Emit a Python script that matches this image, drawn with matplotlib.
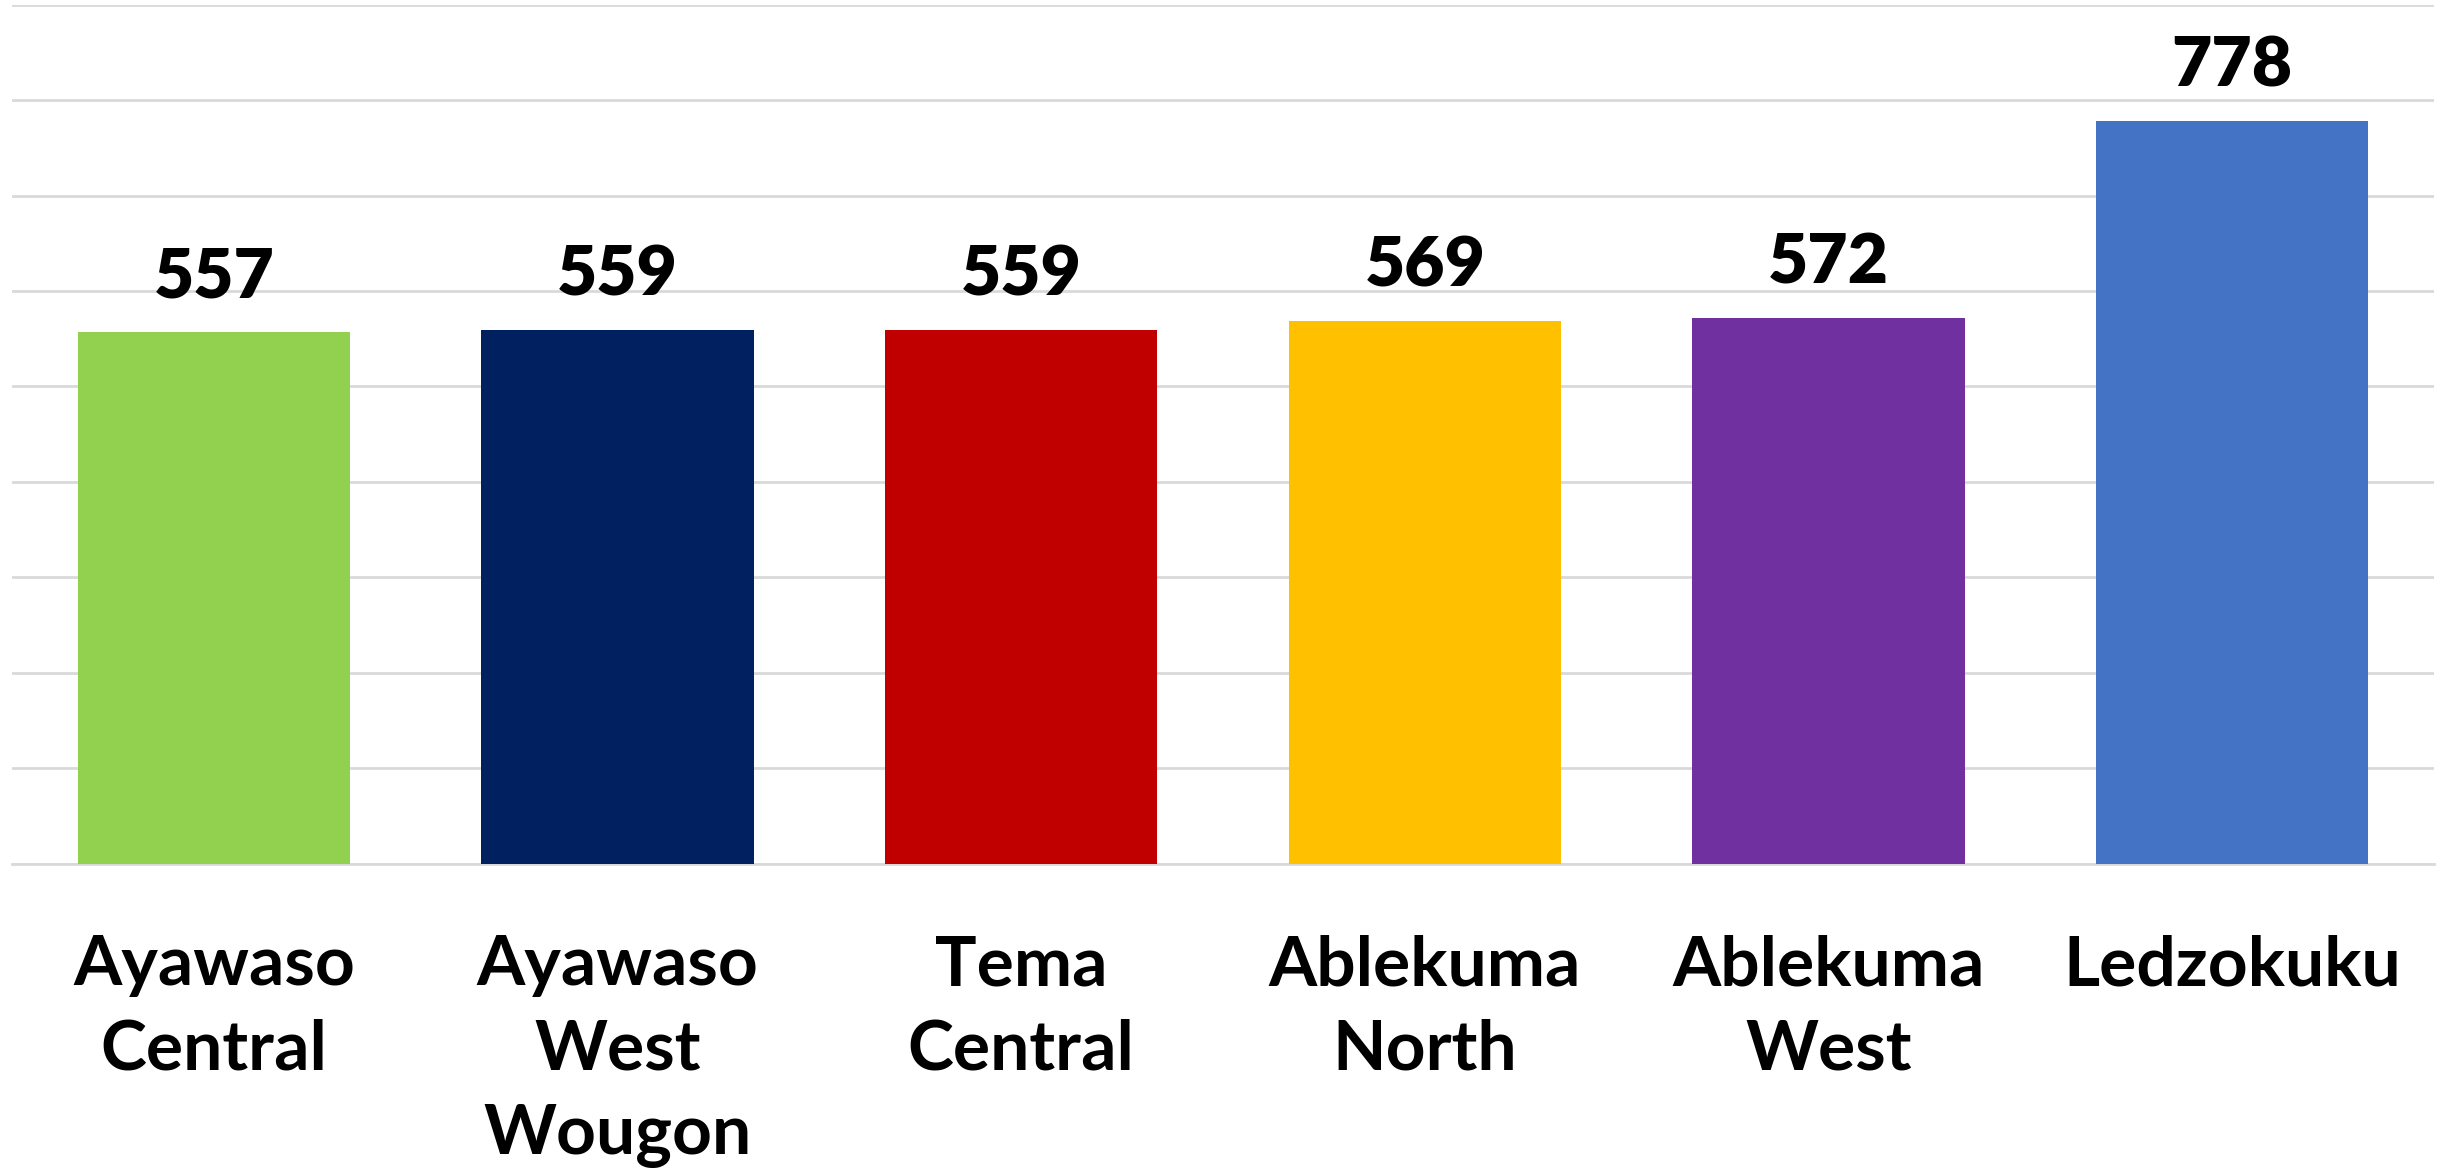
import numpy as np
import matplotlib.pyplot as plt

categories = ['Ayawaso\nCentral', 'Ayawaso\nWest\nWougon', 'Tema\nCentral',
              'Ablekuma\nNorth', 'Ablekuma\nWest', 'Ledzokuku']
values = [557, 559, 559, 569, 572, 778]
colors = ['#92D050', '#002060', '#C00000', '#FFC000', '#7030A0', '#4472C4']

plt.rcParams['font.family'] = ['Lato', 'DejaVu Sans']

fig = plt.figure(figsize=(24.4, 11.76), dpi=100)
ax = fig.add_axes([0.005, 0.2656, 0.9925, 0.7304])

x = np.arange(len(categories))
bars = ax.bar(x, values, width=0.675, color=colors, zorder=3)
ax.bar_label(bars, padding=16, fontsize=50, fontweight='heavy')

ax.set_xlim(-0.5, len(categories) - 0.5)
ax.set_ylim(0, 900)
ax.set_yticks(np.arange(0, 901, 100))
ax.yaxis.grid(True, color='#d9d9d9', linewidth=2, zorder=0)
ax.tick_params(axis='y', left=False, labelleft=False)
ax.tick_params(axis='x', length=0, pad=51)
ax.set_xticks(x)
ax.set_xticklabels(categories, fontsize=50, fontweight='bold', linespacing=1.42)
for s in ['top', 'right', 'left']:
    ax.spines[s].set_visible(False)
ax.spines['bottom'].set_color('#d9d9d9')
ax.spines['bottom'].set_linewidth(2)

fig.savefig('out.png', dpi=100, facecolor='white')
